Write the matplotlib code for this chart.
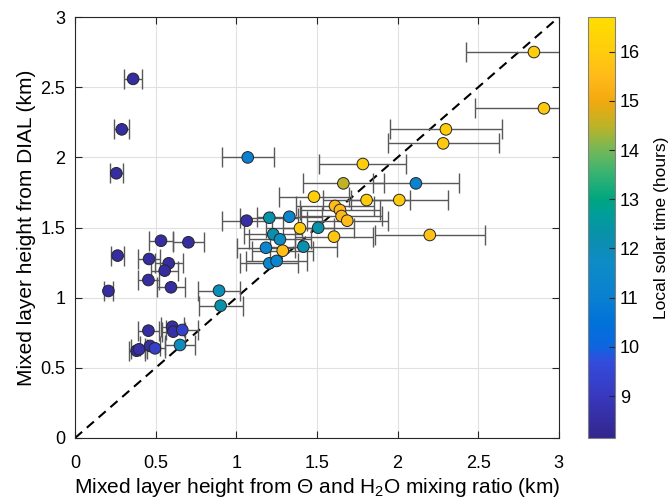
import numpy as np
import matplotlib
matplotlib.use("Agg")
import matplotlib.pyplot as plt
from matplotlib.colors import LinearSegmentedColormap, Normalize
from matplotlib.cm import ScalarMappable

plt.rcParams['font.family'] = ['Liberation Sans', 'DejaVu Sans']
plt.rcParams['mathtext.fontset'] = 'custom'
plt.rcParams['mathtext.rm'] = 'Liberation Sans'
plt.rcParams['mathtext.it'] = 'Liberation Sans:italic'

# ---- data ----
mlh_theta = [0.36, 0.29, 0.256, 1.071, 1.064, 0.533, 0.703, 0.264, 0.459, 0.581,
             0.556, 0.455, 0.595, 0.207, 0.893, 0.903, 0.455, 0.603, 0.609, 0.665,
             0.651, 0.465, 0.496, 0.382, 0.397, 1.664, 2.114, 1.482, 1.808, 2.011,
             1.612, 1.643, 1.653, 1.688, 1.205, 1.329, 1.395, 1.508, 1.229, 1.271,
             1.606, 1.184, 1.288, 1.416, 1.205, 1.25, 2.846, 2.908, 2.30, 2.283,
             1.785, 2.20]
mlh_dial = [2.56, 2.20, 1.887, 2.0, 1.549, 1.406, 1.395, 1.30, 1.276, 1.245,
            1.193, 1.126, 1.074, 1.048, 1.05, 0.943, 0.765, 0.793, 0.758, 0.770,
            0.663, 0.656, 0.639, 0.622, 0.632, 1.815, 1.815, 1.72, 1.696, 1.696,
            1.654, 1.625, 1.582, 1.549, 1.570, 1.577, 1.495, 1.499, 1.452, 1.416,
            1.435, 1.356, 1.335, 1.364, 1.245, 1.262, 2.751, 2.35, 2.20, 2.10,
            1.953, 1.447]
xerr = [0.055, 0.046, 0.04, 0.16, 0.155, 0.075, 0.098, 0.038, 0.068, 0.086,
        0.083, 0.065, 0.088, 0.03, 0.133, 0.136, 0.065, 0.07, 0.07, 0.1,
        0.095, 0.06, 0.06, 0.05, 0.05, 0.25, 0.265, 0.22, 0.27, 0.30,
        0.24, 0.25, 0.25, 0.25, 0.18, 0.2, 0.21, 0.22, 0.18, 0.19,
        0.24, 0.18, 0.19, 0.21, 0.18, 0.19, 0.42, 0.43, 0.345, 0.345,
        0.27, 0.34]
solar_time = [8.5, 8.5, 8.5, 11.0, 8.6, 8.5, 8.5, 8.5, 8.5, 8.5,
              8.5, 8.5, 8.5, 8.5, 12.0, 12.3, 8.5, 8.6, 8.6, 9.3,
              11.8, 8.6, 9.2, 8.5, 8.6, 14.5, 11.2, 16.1, 16.0, 15.9,
              15.5, 15.5, 15.4, 15.5, 12.3, 11.3, 16.0, 12.3, 12.2, 11.8,
              15.8, 11.3, 15.6, 12.2, 11.3, 11.3, 16.0, 15.9, 16.0, 15.9,
              16.0, 15.7]
xticks = [0, 0.5, 1, 1.5, 2, 2.5, 3]
yticks = [0, 0.5, 1, 1.5, 2, 2.5, 3]
cbar_ticks = [9, 10, 11, 12, 13, 14, 15, 16]
clim = (8.15, 16.7)

# colour stops of the reference colour bar (hour, colour)
cmap_hours = [8.15, 9.0, 9.7, 10.0, 10.5, 11.0, 11.7, 12.2, 12.7, 13.0,
              13.5, 14.0, 14.5, 15.0, 15.5, 16.0, 16.7]
cmap_colors = [(0.20, 0.15, 0.55), (0.22, 0.22, 0.75), (0.20, 0.30, 0.86),
               (0.05, 0.40, 0.88), (0.00, 0.45, 0.85), (0.04, 0.50, 0.82),
               (0.05, 0.55, 0.78), (0.04, 0.56, 0.68), (0.00, 0.62, 0.60),
               (0.00, 0.65, 0.50), (0.20, 0.70, 0.45), (0.45, 0.72, 0.35),
               (0.74, 0.70, 0.15), (0.95, 0.66, 0.06), (1.00, 0.73, 0.10),
               (1.00, 0.80, 0.05), (1.00, 0.87, 0.00)]
cm_pos = [(h - clim[0]) / (clim[1] - clim[0]) for h in cmap_hours]
parula = LinearSegmentedColormap.from_list('parula_like', list(zip(cm_pos, cmap_colors)))

fig = plt.figure(figsize=(6.7, 5.04), dpi=100)
ax = fig.add_axes([0.112, 0.131, 0.722, 0.835])
cax = fig.add_axes([0.8776, 0.131, 0.0403, 0.835])

norm = Normalize(*clim)

ax.plot([0, 3], [0, 3], '--', color='black', lw=1.5, dashes=(4.5, 3), zorder=2)
ax.errorbar(mlh_theta, mlh_dial, xerr=xerr, fmt='none', ecolor=(0.35, 0.35, 0.35),
            elinewidth=1.0, capsize=7, capthick=1.0, zorder=3, clip_on=True)
ax.scatter(mlh_theta, mlh_dial, c=solar_time, cmap=parula, norm=norm, s=70,
           edgecolors=(0.15, 0.15, 0.15), linewidths=0.7, zorder=4)

ax.set_xlim(0, 3)
ax.set_ylim(0, 3)
ax.set_xticks(xticks)
ax.set_yticks(yticks)
ax.set_xticklabels([f'{t:g}' for t in xticks])
ax.set_yticklabels([f'{t:g}' for t in yticks])
ax.grid(True, color=(0.88, 0.88, 0.88), lw=0.8, zorder=0)
ax.set_axisbelow(True)
ax.tick_params(direction='in', top=True, right=True, labelsize=13, length=5,
               color=(0.15, 0.15, 0.15))
ax.tick_params(axis='x', pad=12)
ax.tick_params(axis='y', pad=7)
for s in ax.spines.values():
    s.set_color((0.15, 0.15, 0.15))
    s.set_linewidth(0.8)
ax.set_xlabel('Mixed layer height from Θ and H$_2$O mixing ratio (km)', fontsize=15,
              labelpad=3)
ax.set_ylabel('Mixed layer height from DIAL (km)', fontsize=15, labelpad=3)

cb = fig.colorbar(ScalarMappable(norm=norm, cmap=parula), cax=cax)
cb.set_ticks(cbar_ticks)
cb.ax.tick_params(direction='in', labelsize=13, length=4, color=(0.15, 0.15, 0.15))
cb.outline.set_edgecolor((0.5, 0.5, 0.5))
cb.outline.set_linewidth(0.8)
cb.set_label('Local solar time (hours)', fontsize=12.5, labelpad=10)

fig.savefig('out.png', dpi=100)
